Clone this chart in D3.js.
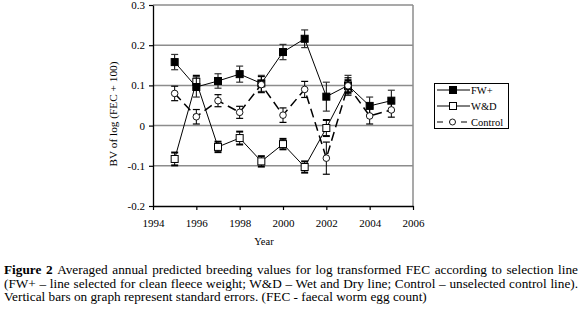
<!DOCTYPE html>
<html>
<head>
<meta charset="utf-8">
<script src="https://cdn.jsdelivr.net/npm/d3@7"></script>
<style>
  body { margin: 0; background: #fff; }
  svg { display: block; font-family: "Liberation Serif", "Times New Roman", serif; }
</style>
</head>
<body>
<svg id="chart" width="580" height="315"></svg>
<script>
// Data
const years = [1995, 1996, 1997, 1998, 1999, 2000, 2001, 2002, 2003, 2004, 2005];
const fwPlus = [0.158, 0.096, 0.111, 0.128, 0.105, 0.183, 0.216, 0.072, 0.100, 0.049, 0.062];
const fwPlusSe = [0.019, 0.025, 0.018, 0.020, 0.020, 0.019, 0.022, 0.036, 0.025, 0.022, 0.026];
const wetDryYears = [1995, 1996, 1997, 1998, 1999, 2000, 2001, 2002, 2003];
const wetDry = [-0.083, 0.109, -0.053, -0.031, -0.089, -0.046, -0.103, -0.006, 0.098];
const wetDrySe = [0.016, 0.015, 0.013, 0.016, 0.013, 0.013, 0.014, 0.020, 0.015];
const control = [0.080, 0.022, 0.062, 0.033, 0.102, 0.026, 0.090, -0.081, 0.099, 0.024, 0.039];
const controlSe = [0.018, 0.018, 0.015, 0.015, 0.020, 0.018, 0.020, 0.040, 0.020, 0.020, 0.018];
const xTicks = [1994, 1996, 1998, 2000, 2002, 2004, 2006];
const yTicks = [-0.2, -0.1, 0, 0.1, 0.2, 0.3];
const captionLines = [
  "Averaged annual predicted breeding values for log transformed FEC according to selection line",
  "(FW+ \u2013 line selected for clean fleece weight; W&D \u2013 Wet and Dry line; Control \u2013 unselected control line).",
  "Vertical bars on graph represent standard errors.  (FEC - faecal worm egg count)"
];

const svg = d3.select('#chart')
const serif = '"Liberation Serif", "Times New Roman", serif'
const plotLeft = 153, plotRight = 413, plotTop = 5, plotBottom = 206

const x = d3.scaleLinear().domain([1994, 2006]).range([plotLeft, plotRight])
const y = d3.scaleLinear().domain([-0.2, 0.3]).range([plotBottom, plotTop])

const fmt = d => d === 0 ? '0' : (d < 0 ? '-' : '') + Math.abs(d).toFixed(1)

// grid lines
svg.append('g')
  .selectAll('line')
  .data(yTicks.filter(d => d > -0.2))
  .enter()
  .append('line')
  .attr('x1', plotLeft).attr('x2', plotRight)
  .attr('y1', d => y(d)).attr('y2', d => y(d))
  .attr('stroke', '#8c8c8c')
  .attr('stroke-width', 1.5)

// right border
svg.append('line')
  .attr('x1', plotRight).attr('x2', plotRight)
  .attr('y1', plotTop).attr('y2', plotBottom)
  .attr('stroke', '#8c8c8c')
  .attr('stroke-width', 1.5)

// axes
const xAxis = d3.axisBottom(x).tickValues(xTicks).tickFormat(d3.format('d')).tickSize(4).tickSizeOuter(0)
const yAxis = d3.axisLeft(y).tickValues(yTicks).tickFormat(fmt).tickSize(4).tickSizeOuter(0)

const gx = svg.append('g').attr('transform', `translate(0,${plotBottom})`).call(xAxis)
const gy = svg.append('g').attr('transform', `translate(${plotLeft},0)`).call(yAxis)
;[gx, gy].forEach(g => {
  g.attr('font-family', serif).attr('font-size', 11)
  g.select('.domain').attr('stroke', '#000').attr('stroke-width', 1.3)
  g.selectAll('.tick line').attr('stroke', '#000').attr('stroke-width', 1.2)
  g.selectAll('.tick text').attr('fill', '#000')
})
gx.selectAll('.tick text').attr('y', 13)
gy.selectAll('.tick text').attr('x', -8)

// axis titles
svg.append('text')
  .attr('x', 264).attr('y', 245)
  .attr('text-anchor', 'middle')
  .style('font-size', '10.5px')
  .text('Year')

svg.append('text')
  .attr('transform', 'rotate(-90)')
  .attr('x', -114).attr('y', 117)
  .attr('text-anchor', 'middle')
  .style('font-size', '11.3px')
  .text('BV of log (FEC + 100)')

// series
const series = [
  { name: 'W&D', xs: wetDryYears, ys: wetDry, se: wetDrySe, marker: 'square', fill: '#fff', dash: null, capColor: '#000', capWidth: 2 },
  { name: 'FW+', xs: years, ys: fwPlus, se: fwPlusSe, marker: 'square', fill: '#000', dash: null, capColor: '#333', capWidth: 1.2 },
  { name: 'Control', xs: years, ys: control, se: controlSe, marker: 'circle', fill: '#fff', dash: '9,5', capColor: '#000', capWidth: 1.2 }
]

const line = d3.line().x(d => x(d.x)).y(d => y(d.y))

series.forEach(s => {
  const pts = s.xs.map((yr, i) => ({ x: yr, y: s.ys[i], se: s.se[i] }))
  const g = svg.append('g')

  g.append('path')
    .datum(pts)
    .attr('d', line)
    .attr('fill', 'none')
    .attr('stroke', '#000')
    .attr('stroke-width', s.dash ? 1.5 : 1)
    .attr('stroke-dasharray', s.dash)

  // error bars
  const eb = g.selectAll('.eb').data(pts).enter().append('g')
  eb.append('line')
    .attr('x1', d => x(d.x)).attr('x2', d => x(d.x))
    .attr('y1', d => y(d.y + d.se)).attr('y2', d => y(d.y - d.se))
    .attr('stroke', '#000').attr('stroke-width', 1)
  eb.selectAll('.cap')
    .data(d => [d.y + d.se, d.y - d.se].map(v => ({ x: d.x, v })))
    .enter()
    .append('line')
    .attr('x1', d => x(d.x) - 3.5).attr('x2', d => x(d.x) + 3.5)
    .attr('y1', d => y(d.v)).attr('y2', d => y(d.v))
    .attr('stroke', s.capColor).attr('stroke-width', s.capWidth)

  if (s.marker === 'square') {
    g.selectAll('.m').data(pts).enter().append('rect')
      .attr('x', d => x(d.x) - 3.5).attr('y', d => y(d.y) - 3.5)
      .attr('width', 7).attr('height', 7)
      .attr('fill', s.fill).attr('stroke', '#000').attr('stroke-width', 1)
  } else {
    g.selectAll('.m').data(pts).enter().append('circle')
      .attr('cx', d => x(d.x)).attr('cy', d => y(d.y))
      .attr('r', 3.3)
      .attr('fill', s.fill).attr('stroke', '#000').attr('stroke-width', 0.9)
  }
})

// legend
const legend = svg.append('g')
legend.append('rect')
  .attr('x', 434.5).attr('y', 83.5).attr('width', 74).attr('height', 45)
  .attr('fill', '#fff').attr('stroke', '#000').attr('stroke-width', 1)

const legendRows = [
  { name: 'FW+', marker: 'square', fill: '#000', dash: null, yy: 90 },
  { name: 'W&D', marker: 'square', fill: '#fff', dash: null, yy: 106 },
  { name: 'Control', marker: 'circle', fill: '#fff', dash: '6,6', yy: 122 }
]
legendRows.forEach(r => {
  legend.append('line')
    .attr('x1', 437).attr('x2', 470).attr('y1', r.yy).attr('y2', r.yy)
    .attr('stroke', '#000').attr('stroke-width', r.dash ? 1.2 : 1)
    .attr('stroke-dasharray', r.dash)
  if (r.marker === 'square') {
    legend.append('rect')
      .attr('x', 449.5).attr('y', r.yy - 3.5).attr('width', 7).attr('height', 7)
      .attr('fill', r.fill).attr('stroke', '#000')
  } else {
    legend.append('circle')
      .attr('cx', 452.5).attr('cy', r.yy).attr('r', 3)
      .attr('fill', r.fill).attr('stroke', '#000').attr('stroke-width', 0.9)
  }
  legend.append('text')
    .attr('x', 471).attr('y', r.yy + 4)
    .style('font-size', '10.5px')
    .text(r.name)
})

// caption: size the font so the last line spans like the original, then justify lines 1-2
const caption = svg.append('g').style('font-size', '11px').style('white-space', 'pre')
const texts = captionLines.map((t, i) => {
  const txt = caption.append('text')
    .attr('x', 4).attr('y', 274 + i * 13.7)
  if (i === 0) {
    txt.append('tspan').style('font-weight', 'bold').text('Figure 2 ')
  }
  txt.append('tspan').text(t)
  return txt
})
const fs = 11 * 423 / texts[2].node().getComputedTextLength()
caption.style('font-size', fs + 'px')
texts.slice(0, 2).forEach(txt => {
  const natural = txt.node().getComputedTextLength()
  const spaces = (txt.text().match(/ /g) || []).length
  txt.style('word-spacing', Math.max(0, (574 - natural) / spaces) + 'px')
})
</script>
</body>
</html>
